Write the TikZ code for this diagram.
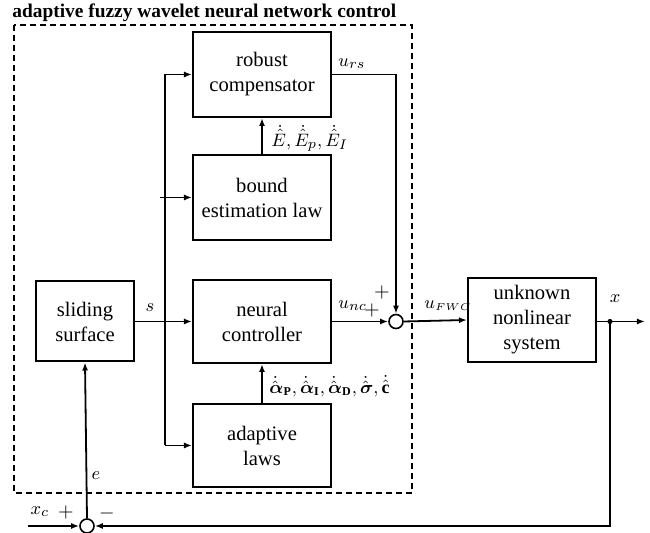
\documentclass[tikz,border=0pt]{standalone}
\usepackage{amsmath,amsbsy}
\usepackage{fontspec}
\setmainfont{Liberation Serif}
\usetikzlibrary{arrows.meta}
\begin{document}
\begin{tikzpicture}[x=0.5pt,y=-0.5pt,
  blk/.style={draw,line width=1pt,align=center,inner sep=0pt,font=\fontsize{10.3}{12.5}\selectfont},
  sumc/.style={draw,circle,line width=0.8pt,minimum size=7pt,inner sep=0pt},
  con/.style={line width=0.9pt},
  arr/.style={con,-{Latex[length=4pt,width=3pt]}},
  lbl/.style={inner sep=0pt,font=\fontsize{9.5}{10}\selectfont},
  pm/.style={inner sep=0pt,font=\fontsize{10}{10}\selectfont}]
\useasboundingbox (0,0) rectangle (650,533);
% dashed frame
\draw[line width=0.8pt,dash pattern=on 3pt off 2pt] (14,25) rectangle (412,493);
\node[anchor=west,inner sep=0pt,font=\fontsize{9.7}{11}\selectfont\bfseries] (title) at (12,13) {adaptive fuzzy wavelet neural network control};
% blocks
\node[blk,minimum width=69pt,minimum height=42.5pt] (rc) at (262,74.5) {robust\\compensator};
\node[blk,minimum width=69pt,minimum height=42.5pt] (be) at (262,197.5) {bound\\estimation law};
\node[blk,minimum width=69pt,minimum height=41.5pt] (nc) at (262,321.5) {neural\\controller};
\node[blk,minimum width=69pt,minimum height=41.5pt] (al) at (262,445.5) {adaptive\\laws};
\node[blk,minimum width=49pt,minimum height=40pt] (ss) at (85,321.5) {sliding\\surface};
\node[blk,minimum width=64pt,minimum height=42pt] (sys) at (532,320) {unknown\\nonlinear\\system};
\node[sumc] (s1) at (396,321.5) {};
\node[sumc] (s2) at (87,526) {};
% coordinates
\coordinate (brt) at (165,74.5);
\coordinate (brm) at (160,197.5);
\coordinate (brb) at (165,445.5);
\coordinate (xo) at (610,321.5);
\coordinate (xend) at (645,321.5);
\coordinate (xin) at (28,526);
\coordinate (rcc) at (396,74.5);
% connectors
\draw[arr] (ss.east) -- (nc.west);
\draw[con] (brt) -- (brb);
\draw[arr] (brt) -- (rc.west);
\draw[arr] (brm) -- (be.west);
\draw[arr] (brb) -- (al.west);
\draw[arr] (be.north) -- (rc.south);
\draw[arr] (al.north) -- (nc.south);
\draw[arr] (rc.east) -- (rcc) -- (s1.north);
\draw[arr] (nc.east) -- (s1.west);
\draw[arr] (s1.east) -- (sys.west);
\draw[arr] (sys.east |- xo) -- (xend);
\fill (xo) circle (1.3pt);
\draw[arr] (xo) -- (xo |- s2) -- (s2.east);
\draw[arr] (xin) -- (s2.west);
\draw[arr] (s2.north) -- (ss.south);
% labels
\node[lbl] (ls) at (150,308) {$s$};
\node[lbl,anchor=west] (lE) at (271,138) {$\dot{\hat{E}},\dot{\hat{E}}_p,\dot{\hat{E}}_I$};
\node[lbl,anchor=west,font=\fontsize{9}{10}\selectfont] (la) at (269,386) {$\dot{\hat{\boldsymbol{\alpha}}}_{\mathbf{P}},\dot{\hat{\boldsymbol{\alpha}}}_{\mathbf{I}},\dot{\hat{\boldsymbol{\alpha}}}_{\mathbf{D}},\dot{\hat{\boldsymbol{\sigma}}},\dot{\hat{\mathbf{c}}}$};
\node[lbl,anchor=west] (lurs) at (338,64) {$u_{rs}$};
\node[lbl,anchor=west] (lunc) at (338,306) {$u_{nc}$};
\node[lbl,anchor=west] (lufwc) at (424,306) {$u_{\scriptscriptstyle FWC}$};
\node[lbl] (lx) at (615,299) {$x$};
\node[lbl] (le) at (96,476) {$e$};
\node[lbl] (lxc) at (40,512) {$x_c$};
\node[pm] (p1) at (382,293) {$+$};
\node[pm] (p2) at (372,311) {$+$};
\node[pm] (p3) at (66,513) {$+$};
\node[pm] (m1) at (107,514) {$-$};
\end{tikzpicture}
\end{document}
